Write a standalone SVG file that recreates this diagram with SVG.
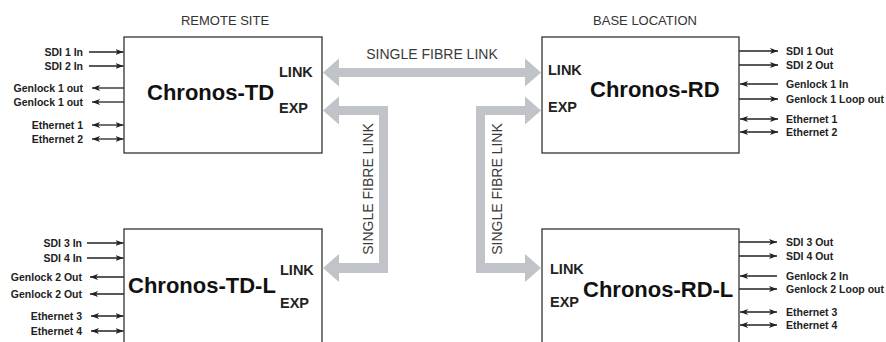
<svg xmlns="http://www.w3.org/2000/svg" width="886" height="342" viewBox="0 0 886 342">
<style>
.box{fill:#fff;stroke:#333;stroke-width:1.3}
.hdr{font-family:"Liberation Sans",Arial,sans-serif;font-size:13px;fill:#333}
.big{font-family:"Liberation Sans",Arial,sans-serif;font-size:22px;font-weight:bold;fill:#111}
.port{font-family:"Liberation Sans",Arial,sans-serif;font-size:14.5px;font-weight:bold;fill:#222}
.lbl{font-family:"Liberation Sans",Arial,sans-serif;font-size:10.5px;font-weight:bold;fill:#222}
.fib{font-family:"Liberation Sans",Arial,sans-serif;font-size:14px;fill:#3a3a3a}
.ln{stroke:#222;stroke-width:1.3;fill:none}
.fibre{fill:#c0c3c7}
</style>
<defs>
<marker id="ah" viewBox="0 0 8 6" refX="8" refY="3" markerWidth="8" markerHeight="6" orient="auto-start-reverse" markerUnits="userSpaceOnUse">
<path d="M0,0 L8,3 L0,6 L2,3 z" fill="#222"/>
</marker>
</defs>

<text class="hdr" x="225" y="25" text-anchor="middle">REMOTE SITE</text>
<text class="hdr" x="645" y="25" text-anchor="middle">BASE LOCATION</text>

<g id="connectors">
<path class="fibre" d="M323,72.5 L339,58.5 L339,68 L525,68 L525,58.5 L541,72.5 L525,86.5 L525,77 L339,77 L339,86.5 Z"/>
<path class="fibre" d="M323,110.5 L339,96.5 L339,106 L388,106 L388,273 L339,273 L339,282 L323,268 L339,254 L339,263 L379,263 L379,115 L339,115 L339,124.5 Z"/>
<path class="fibre" d="M541,110.5 L525,96.5 L525,106 L476,106 L476,273 L525,273 L525,282 L541,268 L525,254 L525,263 L485,263 L485,115 L525,115 L525,124.5 Z"/>
<text class="fib" x="432" y="59" text-anchor="middle">SINGLE FIBRE LINK</text>
<text class="fib" transform="translate(373,189) rotate(-90)" text-anchor="middle">SINGLE FIBRE LINK</text>
<text class="fib" transform="translate(502,189) rotate(-90)" text-anchor="middle">SINGLE FIBRE LINK</text>

<!-- TD left -->
<line class="ln" x1="89" y1="52" x2="123.5" y2="52" marker-end="url(#ah)"/>
<line class="ln" x1="89" y1="66" x2="123.5" y2="66" marker-end="url(#ah)"/>
<line class="ln" x1="124" y1="88" x2="92" y2="88" marker-end="url(#ah)"/>
<line class="ln" x1="124" y1="102" x2="92" y2="102" marker-end="url(#ah)"/>
<line class="ln" x1="92" y1="125" x2="123.5" y2="125" marker-start="url(#ah)" marker-end="url(#ah)"/>
<line class="ln" x1="92" y1="139" x2="123.5" y2="139" marker-start="url(#ah)" marker-end="url(#ah)"/>
<!-- RD right -->
<line class="ln" x1="739" y1="51" x2="778" y2="51" marker-end="url(#ah)"/>
<line class="ln" x1="739" y1="65" x2="778" y2="65" marker-end="url(#ah)"/>
<line class="ln" x1="778" y1="84" x2="740" y2="84" marker-end="url(#ah)"/>
<line class="ln" x1="739" y1="99" x2="778" y2="99" marker-end="url(#ah)"/>
<line class="ln" x1="740" y1="119" x2="778" y2="119" marker-start="url(#ah)" marker-end="url(#ah)"/>
<line class="ln" x1="740" y1="132" x2="778" y2="132" marker-start="url(#ah)" marker-end="url(#ah)"/>
<!-- TD-L left -->
<line class="ln" x1="87" y1="243" x2="123.5" y2="243" marker-end="url(#ah)"/>
<line class="ln" x1="87" y1="258" x2="123.5" y2="258" marker-end="url(#ah)"/>
<line class="ln" x1="124" y1="277" x2="90" y2="277" marker-end="url(#ah)"/>
<line class="ln" x1="124" y1="294" x2="90" y2="294" marker-end="url(#ah)"/>
<line class="ln" x1="91" y1="316" x2="123.5" y2="316" marker-start="url(#ah)" marker-end="url(#ah)"/>
<line class="ln" x1="91" y1="331" x2="123.5" y2="331" marker-start="url(#ah)" marker-end="url(#ah)"/>
<!-- RD-L right -->
<line class="ln" x1="739" y1="242" x2="777" y2="242" marker-end="url(#ah)"/>
<line class="ln" x1="739" y1="256" x2="777" y2="256" marker-end="url(#ah)"/>
<line class="ln" x1="777" y1="276" x2="740" y2="276" marker-end="url(#ah)"/>
<line class="ln" x1="739" y1="289" x2="777" y2="289" marker-end="url(#ah)"/>
<line class="ln" x1="740" y1="312" x2="777" y2="312" marker-start="url(#ah)" marker-end="url(#ah)"/>
<line class="ln" x1="740" y1="325" x2="777" y2="325" marker-start="url(#ah)" marker-end="url(#ah)"/>
</g>

<g id="chronos-td">
<rect class="box" x="124" y="37" width="198" height="116"/>
<text class="big" x="147" y="100">Chronos-TD</text>
<text class="port" x="279" y="77">LINK</text>
<text class="port" x="279" y="113">EXP</text>
<text class="lbl" x="83" y="55.8" text-anchor="end">SDI 1 In</text>
<text class="lbl" x="83" y="69.8" text-anchor="end">SDI 2 In</text>
<text class="lbl" x="83" y="91.8" text-anchor="end">Genlock 1 out</text>
<text class="lbl" x="83" y="105.8" text-anchor="end">Genlock 1 out</text>
<text class="lbl" x="83" y="128.8" text-anchor="end">Ethernet 1</text>
<text class="lbl" x="83" y="142.8" text-anchor="end">Ethernet 2</text>
</g>

<g id="chronos-rd">
<rect class="box" x="542" y="37" width="197" height="116"/>
<text class="big" x="590" y="97">Chronos-RD</text>
<text class="port" x="548" y="75">LINK</text>
<text class="port" x="548" y="112">EXP</text>
<text class="lbl" x="786" y="54.8">SDI 1 Out</text>
<text class="lbl" x="786" y="68.8">SDI 2 Out</text>
<text class="lbl" x="786" y="87.8">Genlock 1 In</text>
<text class="lbl" x="786" y="102.8">Genlock 1 Loop out</text>
<text class="lbl" x="786" y="122.8">Ethernet 1</text>
<text class="lbl" x="786" y="135.8">Ethernet 2</text>
</g>

<g id="chronos-td-l">
<rect class="box" x="124" y="229" width="198" height="130"/>
<text class="big" x="128" y="293">Chronos-TD-L</text>
<text class="port" x="280" y="275">LINK</text>
<text class="port" x="280" y="308">EXP</text>
<text class="lbl" x="82" y="246.8" text-anchor="end">SDI 3 In</text>
<text class="lbl" x="82" y="261.8" text-anchor="end">SDI 4 In</text>
<text class="lbl" x="82" y="280.8" text-anchor="end">Genlock 2 Out</text>
<text class="lbl" x="82" y="297.8" text-anchor="end">Genlock 2 Out</text>
<text class="lbl" x="82" y="319.8" text-anchor="end">Ethernet 3</text>
<text class="lbl" x="82" y="334.8" text-anchor="end">Ethernet 4</text>
</g>

<g id="chronos-rd-l">
<rect class="box" x="542" y="229" width="197" height="130"/>
<text class="big" x="583" y="297">Chronos-RD-L</text>
<text class="port" x="550" y="274">LINK</text>
<text class="port" x="550" y="307">EXP</text>
<text class="lbl" x="786" y="245.8">SDI 3 Out</text>
<text class="lbl" x="786" y="259.8">SDI 4 Out</text>
<text class="lbl" x="786" y="279.8">Genlock 2 In</text>
<text class="lbl" x="786" y="292.8">Genlock 2 Loop out</text>
<text class="lbl" x="786" y="315.8">Ethernet 3</text>
<text class="lbl" x="786" y="328.8">Ethernet 4</text>
</g>
</svg>
